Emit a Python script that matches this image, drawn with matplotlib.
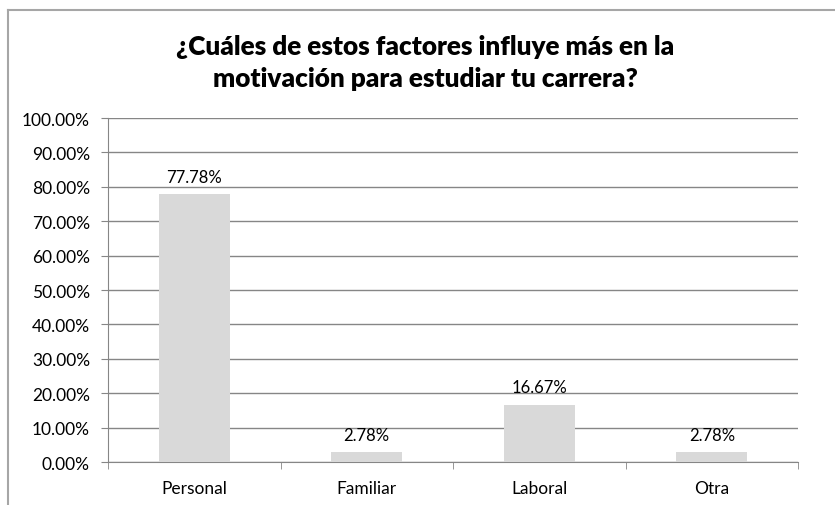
import numpy as np
import matplotlib.pyplot as plt
from matplotlib.lines import Line2D
from matplotlib.ticker import FuncFormatter

# data
categories = ['Personal', 'Familiar', 'Laboral', 'Otra']
values = [77.78, 2.78, 16.67, 2.78]
title = '¿Cuáles de estos factores influye más en la\nmotivación para estudiar tu carrera?'

plt.rcParams['font.family'] = ['Lato', 'DejaVu Sans']

fig = plt.figure(figsize=(8.35, 5.06), dpi=100)
ax = fig.add_axes([108/835, 1 - 463/506, 690/835, 344/506])

grid_col = '#868686'
x = np.arange(len(categories))
ax.bar(x, values, width=0.41, color='#d9d9d9', zorder=3)

for xi, v in zip(x, values):
    ax.annotate(f'{v:.2f}%', (xi, v), xytext=(0, 7), textcoords='offset points',
                ha='center', va='bottom', fontsize=12, color='black')

ax.set_xlim(-0.5, len(categories) - 0.5)
ax.set_ylim(0, 100)
ax.set_yticks(np.arange(0, 101, 10))
ax.yaxis.set_major_formatter(FuncFormatter(lambda v, p: f'{v:.2f}%'))
ax.yaxis.grid(True, color=grid_col, linewidth=1, zorder=0)

ax.set_xticks(x)
ax.set_xticklabels(categories)
ax.set_xticks(np.arange(-0.5, len(categories)), minor=True)
ax.tick_params(axis='x', which='major', length=0, pad=13, labelsize=12.5)
ax.tick_params(axis='x', which='minor', length=5, color=grid_col, direction='out')
ax.tick_params(axis='y', length=5, color=grid_col, labelsize=12.5, pad=8)

for s in ['top', 'right']:
    ax.spines[s].set_visible(False)
for s in ['left', 'bottom']:
    ax.spines[s].set_color(grid_col)

fig.text(425/835, 1 - 63/506, title, ha='center', va='center', fontsize=18.8,
         fontweight='heavy', linespacing=1.38)

# chart area border (top and left edges visible)
fig.add_artist(Line2D([8/835, 1], [1 - 11/506, 1 - 11/506], color='#a6a6a6', lw=1.5))
fig.add_artist(Line2D([8/835, 8/835], [0, 1 - 11/506], color='#a6a6a6', lw=1.5))

fig.savefig('out.png', dpi=100)
